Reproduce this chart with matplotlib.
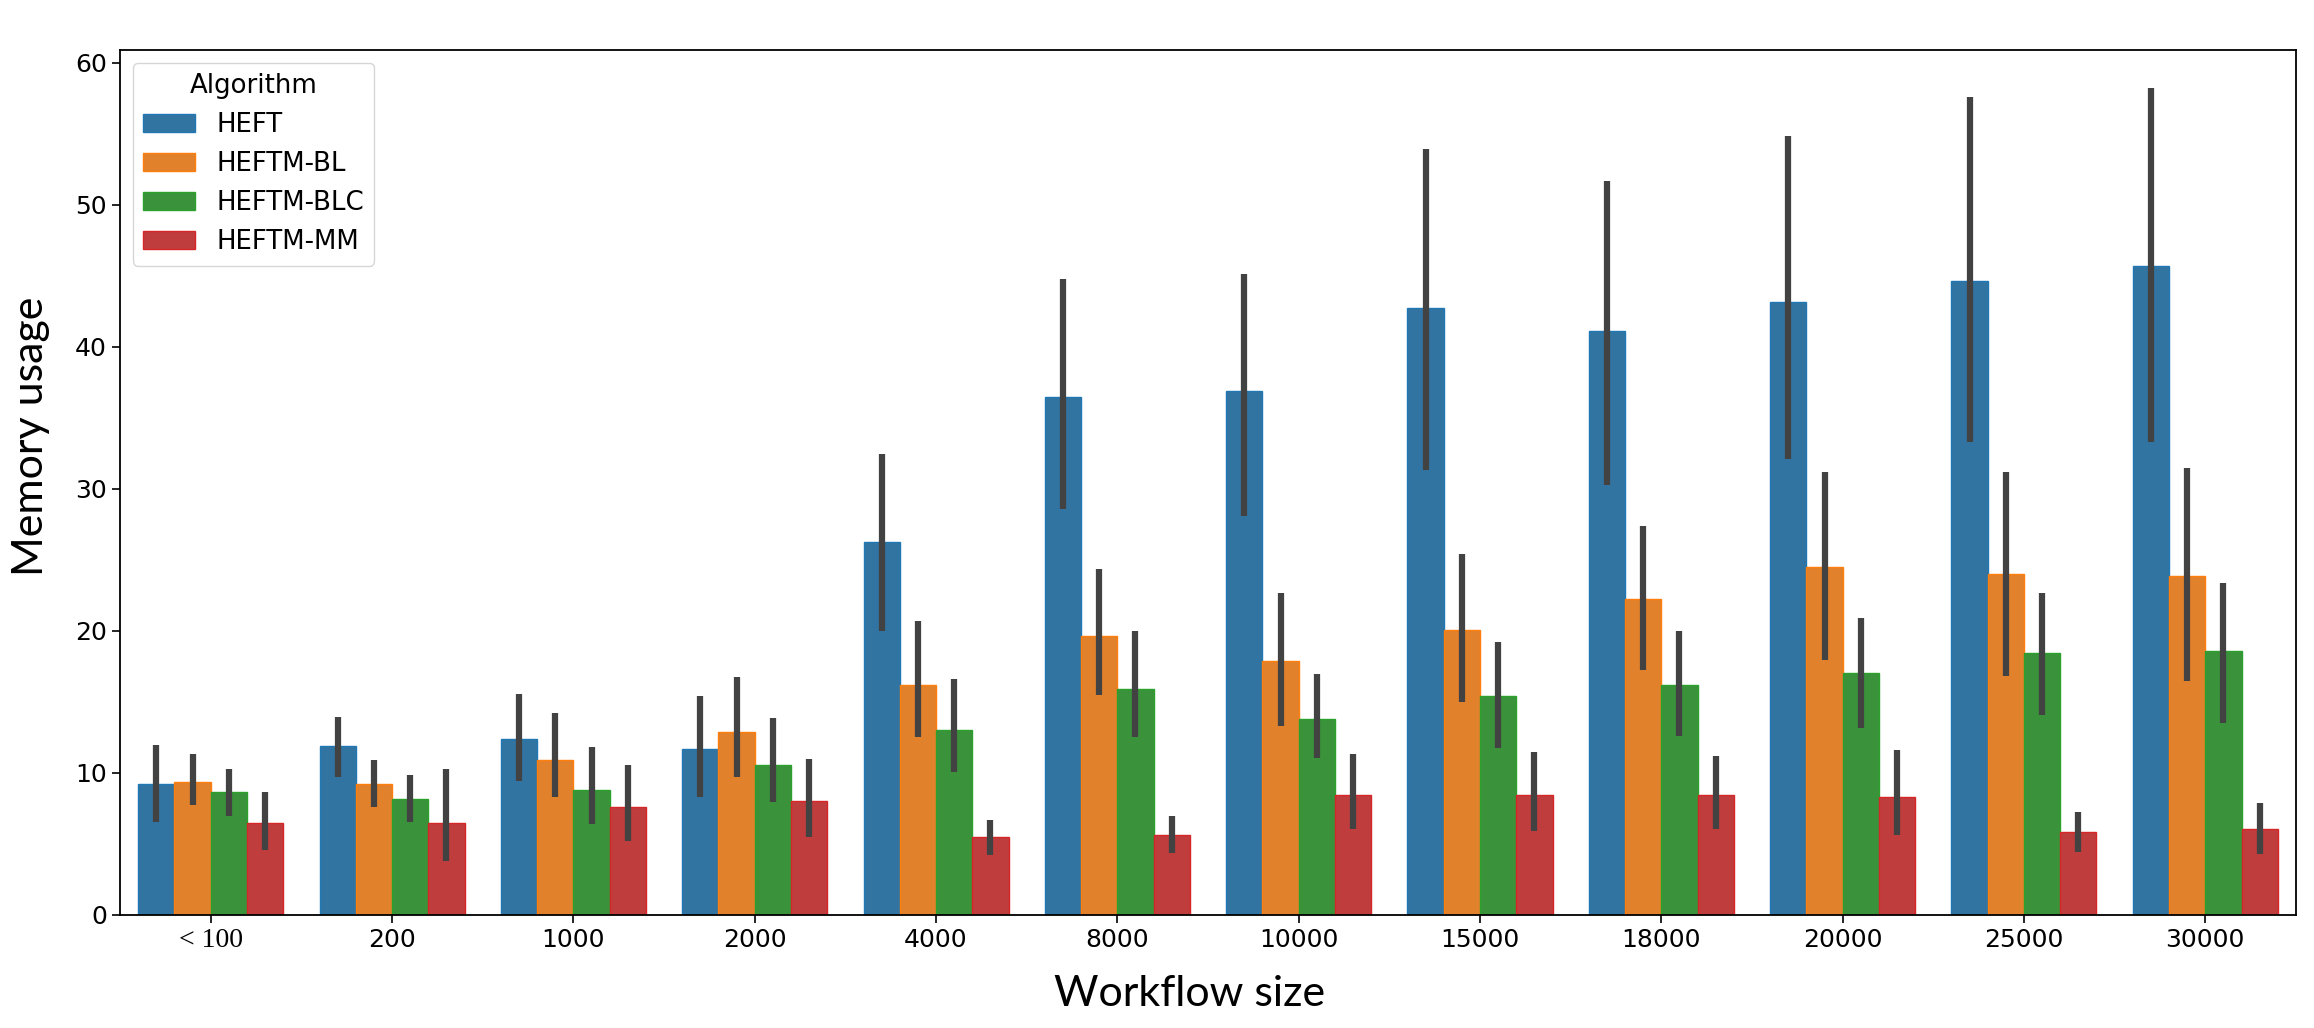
import numpy as np
import matplotlib
matplotlib.use("Agg")
import matplotlib.pyplot as plt
from matplotlib.patches import Patch

sizes = ['< 100', '200', '1000', '2000', '4000', '8000', '10000',
         '15000', '18000', '20000', '25000', '30000']
algorithms = ['HEFT', 'HEFTM-BL', 'HEFTM-BLC', 'HEFTM-MM']

# mean memory usage and confidence interval bounds, per algorithm
heft_mean = [9.25, 11.9, 12.39, 11.69, 26.23, 36.5, 36.9, 42.73, 41.1, 43.13, 44.66, 45.72]
heft_low = [6.57, 9.74, 9.46, 8.29, 20.0, 28.56, 28.07, 31.34, 30.27, 32.13, 33.3, 33.3]
heft_high = [11.97, 13.97, 15.54, 15.42, 32.45, 44.8, 45.1, 53.9, 51.66, 54.85, 57.6, 58.25]

bl_mean = [9.39, 9.25, 10.94, 12.91, 16.22, 19.66, 17.91, 20.04, 22.27, 24.53, 24.0, 23.89]
bl_low = [7.75, 7.63, 8.29, 9.69, 12.51, 15.51, 13.3, 14.99, 17.25, 17.94, 16.85, 16.44]
bl_high = [11.34, 10.92, 14.2, 16.74, 20.71, 24.39, 22.67, 25.44, 27.36, 31.2, 31.2, 31.44]

blc_mean = [8.62, 8.17, 8.83, 10.56, 13.03, 15.92, 13.82, 15.43, 16.2, 17.01, 18.43, 18.55]
blc_low = [6.97, 6.57, 6.4, 7.98, 10.03, 12.5, 11.05, 11.72, 12.6, 13.13, 14.1, 13.54]
blc_high = [10.28, 9.88, 11.85, 13.85, 16.59, 20.01, 16.97, 19.22, 20.0, 20.89, 22.67, 23.4]

mm_mean = [6.45, 6.45, 7.63, 8.05, 5.5, 5.65, 8.42, 8.42, 8.44, 8.28, 5.82, 6.06]
mm_low = [4.58, 3.8, 5.23, 5.5, 4.25, 4.33, 6.03, 5.94, 6.06, 5.65, 4.44, 4.32]
mm_high = [8.68, 10.26, 10.54, 10.96, 6.7, 6.96, 11.31, 11.49, 11.19, 11.6, 7.23, 7.87]

means = [heft_mean, bl_mean, blc_mean, mm_mean]
lows = [heft_low, bl_low, blc_low, mm_low]
highs = [heft_high, bl_high, blc_high, mm_high]

face_colors = ['#3274a1', '#e1812c', '#3a923a', '#c03d3e']
edge_colors = ['#1f77b4', '#ff7f0e', '#2ca02c', '#d62728']


def plot_memory_usage():
    fig = plt.figure(figsize=(23.14, 10.28), dpi=100)
    ax = fig.add_axes([0.0519, 0.110, 0.9403, 0.8414])

    x = np.arange(len(sizes))
    bar_w = 0.2
    for i, alg in enumerate(algorithms):
        pos = x - 0.3 + i * bar_w
        ax.bar(pos, means[i], width=bar_w, color=face_colors[i],
               edgecolor=edge_colors[i], linewidth=1.0, zorder=2)
        ax.vlines(pos, lows[i], highs[i], color='#424242', linewidth=4.5, zorder=3)

    ax.set_xlim(-0.5, len(sizes) - 0.5)
    ax.set_ylim(0, 60.9)
    ax.set_yticks(range(0, 61, 10))
    ax.set_xticks(x)
    ax.set_xticklabels(sizes)
    ax.tick_params(axis='both', labelsize=18, length=6, width=1.2)
    # the first label is set in a serif face in the original
    ax.get_xticklabels()[0].set_fontfamily('Liberation Serif')
    ax.get_xticklabels()[0].set_fontsize(20)
    for s in ax.spines.values():
        s.set_linewidth(1.3)

    handles = [Patch(facecolor=face_colors[i], edgecolor=edge_colors[i], label=a)
               for i, a in enumerate(algorithms)]
    ax.legend(handles=handles, title='Algorithm', loc='upper left',
              fontsize=18.7, title_fontsize=18.7, borderaxespad=0.5)

    fig.text(0.514, 0.033, 'Workflow size', fontsize=31, family='Lato',
             ha='center', va='center')
    fig.text(0.0135, 0.576, 'Memory usage', fontsize=31, family='Lato',
             rotation=90, ha='center', va='center')

    fig.savefig('out.png', dpi=100, facecolor='white')


def main():
    plot_memory_usage()


if __name__ == "__main__":
    main()
